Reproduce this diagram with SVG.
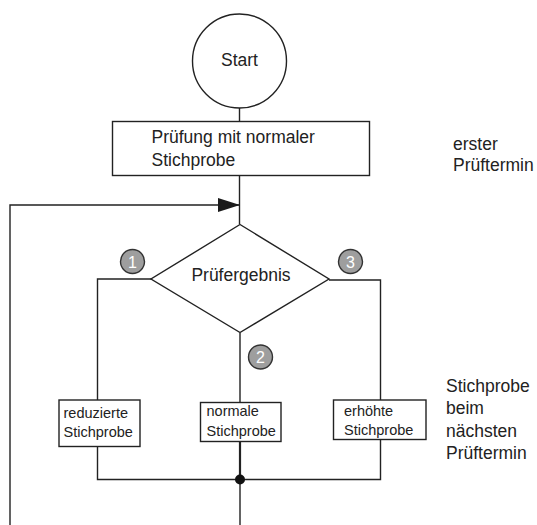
<svg xmlns="http://www.w3.org/2000/svg" width="537" height="525" viewBox="0 0 537 525">
<defs>
<style>
text{font-family:"Liberation Sans",Arial,sans-serif;fill:#222}
.big{font-size:17.5px}
.small{font-size:14.5px}
.shape{fill:#fff;stroke:#222;stroke-width:1.4}
.line{fill:none;stroke:#222;stroke-width:1.4}
.badge circle{fill:#9e9e9e;stroke:#333;stroke-width:1.4}
.badge text{fill:#fff;font-size:16px;text-anchor:middle}
</style>
<marker id="arr" markerWidth="22" markerHeight="14" refX="22" refY="7" orient="auto" markerUnits="userSpaceOnUse">
<path d="M0,0 L22,7 L0,14 Z" fill="#1a1a1a"/>
</marker>
</defs>
<rect width="537" height="525" fill="#fff"/>
<g id="connectors">
<line class="line" x1="239.5" y1="108" x2="239.5" y2="121.5"/>
<line class="line" x1="239.5" y1="175.5" x2="239.5" y2="224"/>
<polyline class="line" points="10,525 10,205 240,205" marker-end="url(#arr)"/>
<polyline class="line" points="151,279 97.5,279 97.5,400"/>
<polyline class="line" points="329,280 380.5,280 380.5,400"/>
<line class="line" x1="240" y1="333" x2="240" y2="402.5"/>
<polyline class="line" points="97.5,446.5 97.5,479.5 380.5,479.5 380.5,439.5"/>
<line class="line" x1="240" y1="441.5" x2="240" y2="479.5" style="stroke-width:2.2"/>
<line class="line" x1="240" y1="479.5" x2="240" y2="525"/>
<circle cx="240" cy="479.5" r="5" fill="#111"/>
</g>
<g id="start">
<circle class="shape" cx="239.5" cy="61" r="47"/>
<text class="big" x="239.5" y="66" text-anchor="middle">Start</text>
</g>
<g id="pruefung">
<rect class="shape" x="112.5" y="121.5" width="257" height="54"/>
<text class="big" x="151.5" y="142.5">Prüfung mit normaler</text>
<text class="big" x="151.5" y="165.5">Stichprobe</text>
</g>
<g id="erster">
<text class="big" x="453" y="149.5">erster</text>
<text class="big" x="453" y="170.5">Prüftermin</text>
</g>
<g id="pruefergebnis">
<polygon class="shape" points="240,224.5 329,279 240,332.5 151,279"/>
<text class="big" x="241" y="281" text-anchor="middle">Prüfergebnis</text>
</g>
<g id="badge1" class="badge">
<circle cx="132.5" cy="261.5" r="12"/>
<text x="132.5" y="267.5">1</text>
</g>
<g id="badge2" class="badge">
<circle cx="260.5" cy="357" r="12"/>
<text x="260.5" y="363">2</text>
</g>
<g id="badge3" class="badge">
<circle cx="350.5" cy="261.5" r="12"/>
<text x="350.5" y="267.5">3</text>
</g>
<g id="reduziert">
<rect class="shape" x="59" y="400" width="81" height="46.5"/>
<text class="small" x="63.5" y="417.5">reduzierte</text>
<text class="small" x="63.5" y="436.5">Stichprobe</text>
</g>
<g id="normal">
<rect class="shape" x="200.5" y="402.5" width="80.5" height="39"/>
<text class="small" x="206.5" y="416">normale</text>
<text class="small" x="206.5" y="435.5">Stichprobe</text>
</g>
<g id="erhoeht">
<rect class="shape" x="333.5" y="400" width="92.5" height="39.5"/>
<text class="small" x="344" y="415.5">erhöhte</text>
<text class="small" x="344" y="434.5">Stichprobe</text>
</g>
<g id="naechster">
<text class="big" x="446" y="391.5">Stichprobe</text>
<text class="big" x="446" y="413.5">beim</text>
<text class="big" x="446" y="436.5">nächsten</text>
<text class="big" x="446" y="459">Prüftermin</text>
</g>
</svg>
